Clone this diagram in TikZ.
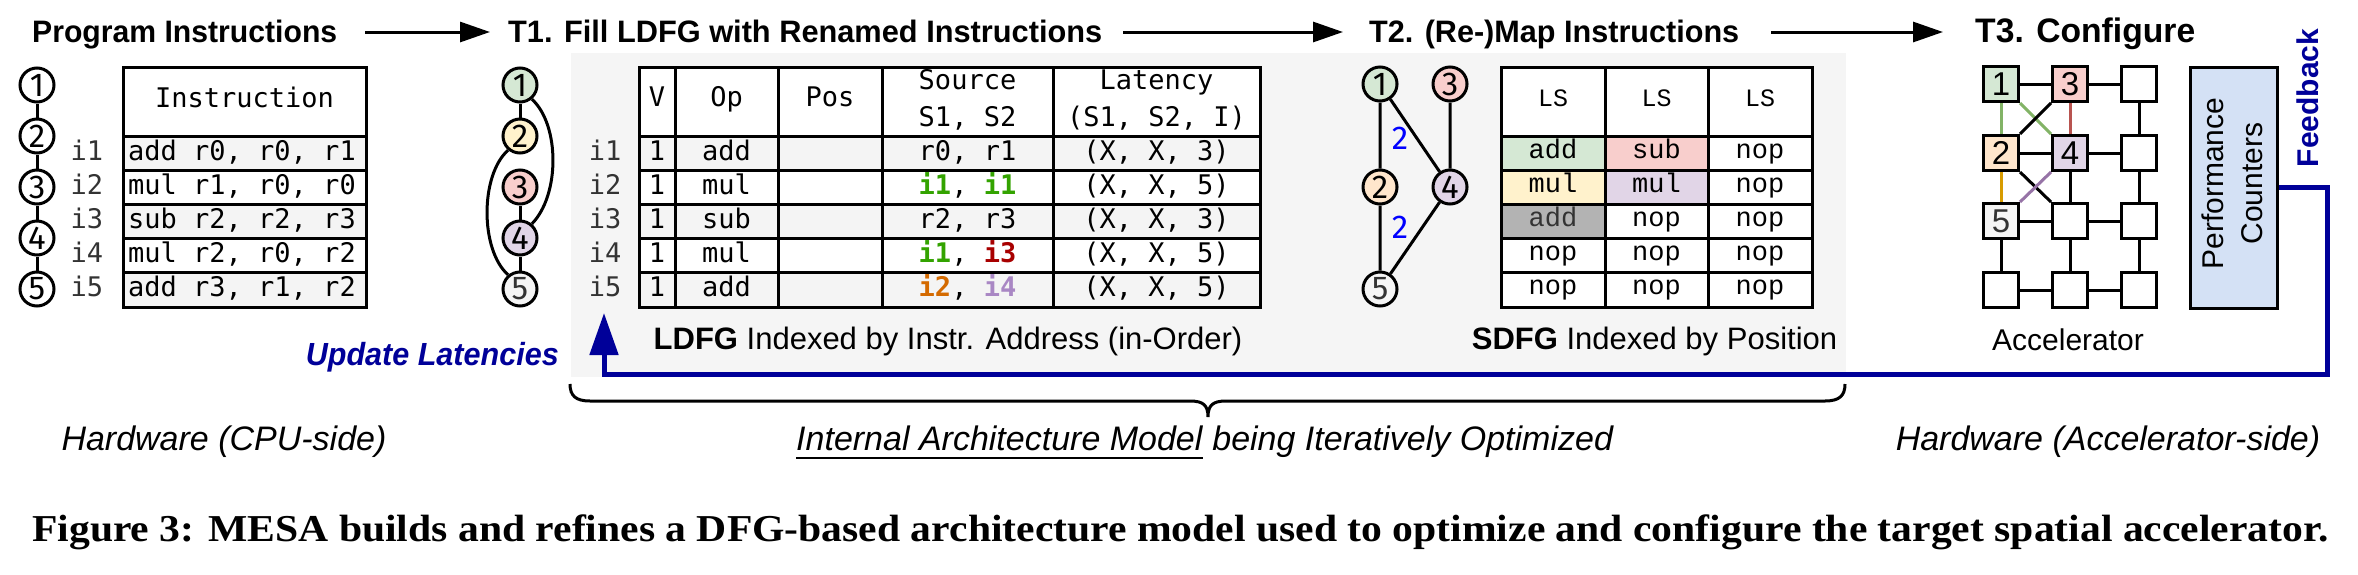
\documentclass[tikz,border=0pt]{standalone}
\usepackage{fontspec}
\usepackage{graphicx}
\setmainfont{Liberation Sans}
\newfontfamily\monoff{DejaVu Sans Mono}
\newfontfamily\courff{Liberation Mono}
\newfontfamily\capff{Liberation Serif}
\newfontfamily\digff{Fira Sans}
\usetikzlibrary{arrows.meta}
\definecolor{cgreen}{HTML}{D5E8D4}
\definecolor{cgreenl}{HTML}{82B366}
\definecolor{cred}{HTML}{F8CECC}
\definecolor{credl}{HTML}{B85450}
\definecolor{cyel}{HTML}{FFF2CC}
\definecolor{corange}{HTML}{FFE6CC}
\definecolor{corangel}{HTML}{D79B00}
\definecolor{cpurp}{HTML}{E1D5E7}
\definecolor{cpurpl}{HTML}{9673A6}
\definecolor{clgray}{HTML}{F5F5F5}
\definecolor{crow}{HTML}{F4F4F4}
\definecolor{cdgray}{HTML}{B3B3B3}
\definecolor{cblue}{HTML}{000099}
\definecolor{cpc}{HTML}{D4E1F5}
\definecolor{ctxt}{HTML}{333333}
\definecolor{si1}{HTML}{33A300}
\definecolor{si2}{HTML}{D46A00}
\definecolor{si3}{HTML}{A80000}
\definecolor{si4}{HTML}{A987C4}
\definecolor{cedge}{HTML}{0000FF}
\newcommand\fsz[2]{\fontsize{#1pt}{#2pt}\selectfont}
\newcommand\fitw[2]{\resizebox{#1pt}{\height}{#2}}
\newcommand\hl[2]{{\bfseries\color{#1}#2}}
\newcommand\ldrow[5]{%
  \node[mono,anchor=base,text=ctxt] (li#1) at (605,#2) {i#1};
  \node[mono,anchor=base] (lv#1) at (657,#2) {1};
  \node[mono,anchor=base] (lo#1) at (726.5,#2) {#3};
  \node[mono,anchor=base] (ls#1) at (967.5,#2) {#4};
  \node[mono,anchor=base] (ll#1) at (1156.5,#2) {#5};}
\begin{document}
\begin{tikzpicture}[x=1pt,y=-1pt,
  tl/.style={line width=3pt},
  circ/.style={circle,draw,line width=3pt,minimum size=34pt,inner sep=0pt,font=\digff\fsz{33}{33}},
  arr/.style={-{Triangle[length=30pt,width=20pt]},line width=3pt},
  mono/.style={inner sep=0pt,font=\monoff\fsz{27}{32}},
  cour/.style={inner sep=0pt,anchor=base,font=\courff\fsz{27}{32}},
  head/.style={inner sep=0pt,anchor=base west,font=\bfseries\fsz{31}{36}},
  sq/.style={draw,line width=3pt,minimum size=35pt,inner sep=0pt,font=\fsz{33}{33}},
  lbl/.style={inner sep=0pt,anchor=base,font=\fsz{31}{36}},
  ital/.style={inner sep=0pt,font=\itshape\fsz{34}{40}},
]
\useasboundingbox (0,0) rectangle (2358,574);
\fill[white] (0,0) rectangle (2358,574);

% headings
\node[head] (hp) at (32,42) {\fitw{305}{Program Instructions}};
\node[head] (h1) at (508,42) {\fitw{594}{T1. Fill LDFG with Renamed Instructions}};
\node[head] (h2) at (1369,42) {\fitw{370}{T2. (Re-)Map Instructions}};
\node[head] (h3) at (1975,42) {\fitw{220}{\fsz{34}{40}T3. Configure}};
\coordinate (ay) at (0,32);
\draw[arr,shorten <=28pt,shorten >=18pt] (hp.east|-ay) -- (h1.west|-ay);
\draw[arr,shorten <=21pt,shorten >=26pt] (h1.east|-ay) -- (h2.west|-ay);
\draw[arr,shorten <=32pt,shorten >=32pt] (h2.east|-ay) -- (h3.west|-ay);

% gray panel
\fill[clgray] (571,53) rectangle (1846,377);

% program graph
\foreach \i/\y in {1/85,2/136,3/187,4/238,5/289}{\node[circ,fill=white] (p\i) at (37,\y) {\i};}
\draw[tl] (p1)--(p2) (p2)--(p3) (p3)--(p4) (p4)--(p5);

% program table
\fill[white] (123,67) rectangle (366,136);
\fill[crow] (123,136) rectangle (366,170.2);
\fill[white] (123,170.2) rectangle (366,204.4);
\fill[crow] (123,204.4) rectangle (366,238.6);
\fill[white] (123,238.6) rectangle (366,272.8);
\fill[crow] (123,272.8) rectangle (366,307);
\draw[tl] (123,67) rectangle (366,307);
\foreach \y in {136,170.2,204.4,238.6,272.8}{\draw[tl] (123,\y) -- (366,\y);}
\node[mono,anchor=base] (ph) at (244.5,107) {Instruction};
\node[mono,anchor=base west] (pr1) at (128,160) {add r0, r0, r1};
\node[mono,anchor=base west] (pr2) at (128,194.2) {mul r1, r0, r0};
\node[mono,anchor=base west] (pr3) at (128,228.4) {sub r2, r2, r3};
\node[mono,anchor=base west] (pr4) at (128,262.6) {mul r2, r0, r2};
\node[mono,anchor=base west] (pr5) at (128,296.8) {add r3, r1, r2};
\foreach \i/\b in {1/160,2/194.2,3/228.4,4/262.6,5/296.8}{\node[mono,anchor=base,text=ctxt] (pl\i) at (87,\b) {i\i};}

% T1 graph
\node[circ,fill=cgreen] (t1) at (520,85) {1};
\node[circ,fill=cyel] (t2) at (520,136) {2};
\node[circ,fill=cred] (t3) at (520,187) {3};
\node[circ,fill=cpurp] (t4) at (520,238) {4};
\node[circ,fill=clgray,text=ctxt] (t5) at (520,289) {5};
\draw[tl] (t1)--(t2) (t3)--(t4) (t4)--(t5);
\draw[tl] (t1.-50) .. controls (560,125) and (560,195) .. (t4.50);
\draw[tl] (t2.230) .. controls (480,175) and (480,250) .. (t5.130);

% LDFG table
\fill[white] (639,67) rectangle (1260,136);
\fill[crow] (639,136) rectangle (1260,170.2);
\fill[white] (639,170.2) rectangle (1260,204.4);
\fill[crow] (639,204.4) rectangle (1260,238.6);
\fill[white] (639,238.6) rectangle (1260,272.8);
\fill[crow] (639,272.8) rectangle (1260,307);
\draw[tl] (639,67) rectangle (1260,307);
\foreach \y in {136,170.2,204.4,238.6,272.8}{\draw[tl] (639,\y) -- (1260,\y);}
\foreach \x in {675,778,882,1053}{\draw[tl] (\x,67) -- (\x,307);}
\node[mono,anchor=base] (hv) at (657,106) {V};
\node[mono,anchor=base] (hop) at (726.5,106) {Op};
\node[mono,anchor=base] (hpos) at (830,106) {Pos};
\node[mono,anchor=base] (hs1) at (967.5,89) {Source};
\node[mono,anchor=base] (hs2) at (967.5,126) {S1, S2};
\node[mono,anchor=base] (hl1) at (1156.5,89) {Latency};
\node[mono,anchor=base] (hl2) at (1156.5,126) {(S1, S2, I)};
\ldrow{1}{160}{add}{r0, r1}{(X, X, 3)}
\ldrow{2}{194.2}{mul}{\hl{si1}{i1}, \hl{si1}{i1}}{(X, X, 5)}
\ldrow{3}{228.4}{sub}{r2, r3}{(X, X, 3)}
\ldrow{4}{262.6}{mul}{\hl{si1}{i1}, \hl{si3}{i3}}{(X, X, 5)}
\ldrow{5}{296.8}{add}{\hl{si2}{i2}, \hl{si4}{i4}}{(X, X, 5)}

% SDFG graph
\node[circ,fill=cgreen] (sg1) at (1380,84) {1};
\node[circ,fill=cred] (sg3) at (1450,84) {3};
\node[circ,fill=corange] (sg2) at (1380,187) {2};
\node[circ,fill=cpurp] (sg4) at (1450,187) {4};
\node[circ,fill=clgray,text=ctxt] (sg5) at (1380,289) {5};
\draw[tl] (sg1)--(sg2) (sg1)--(sg4) (sg3)--(sg4) (sg2)--(sg5) (sg4)--(sg5);
\node[inner sep=0pt,text=cedge,font=\digff\fsz{33}{33}] (w1) at (1400,138) {2};
\node[inner sep=0pt,text=cedge,font=\digff\fsz{33}{33}] (w2) at (1400,227) {2};

% SDFG table
\fill[white] (1501,67) rectangle (1812,307);
\fill[cgreen] (1501,136) rectangle (1605,170.2);
\fill[cred] (1605,136) rectangle (1708,170.2);
\fill[cyel] (1501,170.2) rectangle (1605,204.4);
\fill[cpurp] (1605,170.2) rectangle (1708,204.4);
\fill[cdgray] (1501,204.4) rectangle (1605,238.6);
\draw[tl] (1501,67) rectangle (1812,307);
\foreach \y in {136,170.2,204.4,238.6,272.8}{\draw[tl] (1501,\y) -- (1812,\y);}
\foreach \x in {1605,1708}{\draw[tl] (\x,67) -- (\x,307);}
\foreach \c/\x in {1/1553,2/1656.5,3/1760}{\node[cour,font=\courff\fsz{25}{30}] (sh\c) at (\x,106) {LS};}
\node[cour] (sc11) at (1553,158) {add};
\node[cour] (sc12) at (1656.5,158) {sub};
\node[cour] (sc13) at (1760,158) {nop};
\node[cour] (sc21) at (1553,192.2) {mul};
\node[cour] (sc22) at (1656.5,192.2) {mul};
\node[cour] (sc23) at (1760,192.2) {nop};
\node[cour,text=ctxt] (sc31) at (1553,226.4) {add};
\node[cour] (sc32) at (1656.5,226.4) {nop};
\node[cour] (sc33) at (1760,226.4) {nop};
\node[cour] (sc41) at (1553,260.6) {nop};
\node[cour] (sc42) at (1656.5,260.6) {nop};
\node[cour] (sc43) at (1760,260.6) {nop};
\node[cour] (sc51) at (1553,294.8) {nop};
\node[cour] (sc52) at (1656.5,294.8) {nop};
\node[cour] (sc53) at (1760,294.8) {nop};

% panel labels
\node[lbl] (ldl) at (948,349) {\textbf{LDFG} Indexed by Instr. Address (in-Order)};
\node[lbl] (sdl) at (1654.5,349) {\textbf{SDFG} Indexed by Position};

% accelerator grid
\node[sq,fill=cgreen] (g11) at (2001,84) {1};
\node[sq,fill=cred] (g12) at (2070,84) {3};
\node[sq,fill=white] (g13) at (2139,84) {};
\node[sq,fill=corange] (g21) at (2001,153) {2};
\node[sq,fill=cpurp] (g22) at (2070,153) {4};
\node[sq,fill=white] (g23) at (2139,153) {};
\node[sq,fill=clgray,text=ctxt] (g31) at (2001,221) {5};
\node[sq,fill=white] (g32) at (2070,221) {};
\node[sq,fill=white] (g33) at (2139,221) {};
\node[sq,fill=white] (g41) at (2001,290) {};
\node[sq,fill=white] (g42) at (2070,290) {};
\node[sq,fill=white] (g43) at (2139,290) {};
\draw[tl] (g11)--(g12) (g12)--(g13) (g21)--(g22) (g22)--(g23) (g31)--(g32) (g32)--(g33) (g41)--(g42) (g42)--(g43);
\draw[tl] (g31)--(g41) (g22)--(g32) (g32)--(g42) (g13)--(g23) (g23)--(g33) (g33)--(g43);
\draw[tl,cgreenl] (g11)--(g21);
\draw[tl,corangel] (g21)--(g31);
\draw[tl,credl] (g12)--(g22);
\draw[tl,cgreenl] (g11.south east)--(g22.north west);
\draw[tl] (g12.south west)--(g21.north east);
\draw[tl] (g21.south east)--(g32.north west);
\draw[tl,cpurpl] (g22.south west)--(g31.north east);
\node[inner sep=0pt,font=\fsz{30}{36}] (acc) at (2068,340) {Accelerator};

% performance counters
\node[draw,line width=3pt,fill=cpc,minimum width=87pt,minimum height=241pt,inner sep=0pt] (pc) at (2233.5,187.5) {};
\node[rotate=90,align=center,inner sep=0pt,font=\fsz{30}{39}] (pct) at (2232.5,183.5) {Performance\\Counters};
\node[rotate=90,inner sep=0pt,text=cblue,font=\bfseries\fsz{30}{30}] (fb) at (2308,98) {Feedback};

% feedback loop
\coordinate (ul) at (604,313);
\draw[line width=5pt,cblue,-{Triangle[length=42pt,width=28pt]}] (pc.east) -| (2327,374) -| (ul);
\node[inner sep=0pt,anchor=base east,text=cblue,font=\bfseries\itshape\fsz{32}{36}] (upd) at (559,365) {\fitw{253}{Update Latencies}};

% brace
\draw[line width=3pt] (570,384) .. controls (570,396) and (576,401) .. (590,401) -- (1190,401) .. controls (1203,401) and (1208,405) .. (1208,417) .. controls (1208,405) and (1213,401) .. (1226,401) -- (1825,401) .. controls (1839,401) and (1845,396) .. (1845,384);

% bottom labels
\node[ital,anchor=base] (hwc) at (224,450) {Hardware (CPU-side)};
\node[ital,anchor=base west] (iam) at (796,450) {Internal Architecture Model};
\node[ital,anchor=base west] (bio) at ([xshift=9.45pt]iam.base east) {being Iteratively Optimized};
\draw[line width=2.5pt] ([yshift=-8pt]iam.base west) -- ([yshift=-8pt]iam.base east);
\node[ital,anchor=base] (hwa) at (2108,450) {Hardware (Accelerator-side)};

% caption
\node[inner sep=0pt,anchor=base west] (cap) at (32,541) {\fitw{2296}{\capff\bfseries\fsz{38}{44}Figure 3: MESA builds and refines a DFG-based architecture model used to optimize and configure the target spatial accelerator.}};
\end{tikzpicture}
\end{document}
